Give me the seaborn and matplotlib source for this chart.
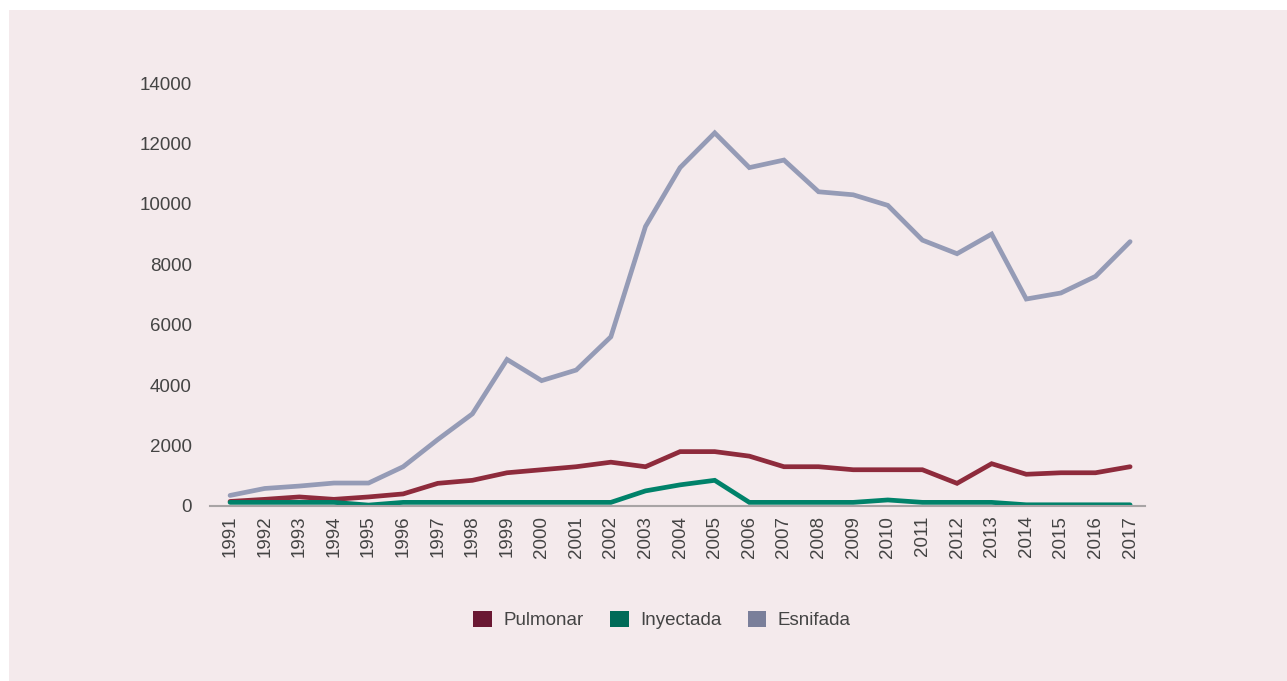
"""Evolucion de la via de consumo de cocaina, 1991-2017."""

import matplotlib

matplotlib.use("Agg")
import matplotlib.pyplot as plt
import numpy as np
import pandas as pd
import seaborn as sns
from matplotlib.patches import Patch, Rectangle

years = list(range(1991, 2018))
pulmonar = [150, 220, 300, 220, 300, 400, 750, 850, 1100, 1200, 1300, 1450, 1300, 1800,
            1800, 1650, 1300, 1300, 1200, 1200, 1200, 750, 1400, 1050, 1100, 1100, 1300]
inyectada = [120, 120, 120, 120, 30, 120, 120, 120, 120, 120, 120, 120, 500, 700,
             850, 120, 120, 120, 120, 200, 120, 120, 120, 40, 40, 40, 40]
esnifada = [350, 580, 660, 760, 760, 1300, 2200, 3050, 4850, 4150, 4500, 5600, 9250, 11200,
            12350, 11200, 11450, 10400, 10300, 9950, 8800, 8350, 9000, 6850, 7050, 7600, 8750]
series_names = ["Pulmonar", "Inyectada", "Esnifada"]
line_colors = ["#8E2B3C", "#00826A", "#959BB6"]
legend_colors = ["#6A1833", "#006B58", "#7A7F9A"]
yticks = [0, 2000, 4000, 6000, 8000, 10000, 12000, 14000]

BG = "#F4EAEC"
TEXT = "#444444"

df = pd.DataFrame({"year": years, "Pulmonar": pulmonar, "Inyectada": inyectada, "Esnifada": esnifada})
long_df = df.melt(id_vars="year", var_name="via", value_name="value")

sns.set_style("white")
plt.rcParams["font.family"] = ["Liberation Sans", "DejaVu Sans"]

fig = plt.figure(figsize=(12.87, 6.81), dpi=100)
fig.patch.set_facecolor("white")
fig.patches.append(Rectangle((9 / 1287, 0), 1, 1 - 10 / 681, transform=fig.transFigure,
                             facecolor=BG, edgecolor="none", zorder=-10))

ax = fig.add_axes([210 / 1287, (681 - 506) / 681, 935 / 1287, 423 / 681])
ax.set_zorder(2)
ax.set_facecolor("none")

sns.lineplot(data=long_df, x="year", y="value", hue="via", hue_order=series_names,
             palette=dict(zip(series_names, line_colors)), linewidth=3.4, legend=False,
             ax=ax, solid_joinstyle="miter")

ax.set_xlim(1990.42, 2017.43)
ax.set_ylim(0, 14000)
ax.set_xticks(years)
ax.set_xticklabels([str(y) for y in years], rotation=90, fontsize=13.5, color=TEXT)
ax.set_yticks(yticks)
ax.set_yticklabels([str(v) for v in yticks], fontsize=13.5, color=TEXT)
ax.tick_params(axis="both", length=0, pad=7)
ax.tick_params(axis="y", pad=13)
ax.set_xlabel("")
ax.set_ylabel("")
for side in ["top", "right", "left"]:
    ax.spines[side].set_visible(False)
ax.spines["bottom"].set_color("#A8A4A5")
ax.spines["bottom"].set_linewidth(1.5)

handles = [Patch(facecolor=c, edgecolor="none") for c in legend_colors]
leg = fig.legend(handles, series_names, loc="center", bbox_to_anchor=(662 / 1287, 1 - 620 / 681),
                 ncol=3, frameon=False, fontsize=13.5, handlelength=1.0, handleheight=1.0,
                 columnspacing=1.4, handletextpad=0.6)
leg.set_zorder(3)
for t in leg.get_texts():
    t.set_color(TEXT)

fig.savefig("out.png", dpi=100, facecolor=fig.get_facecolor())
